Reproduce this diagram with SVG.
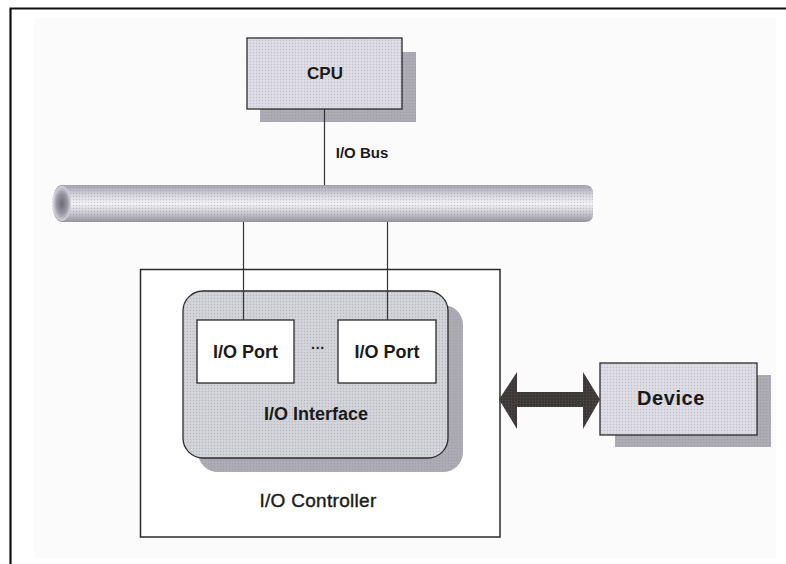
<svg xmlns="http://www.w3.org/2000/svg" width="786" height="564" viewBox="0 0 786 564">
  <defs>
    <style>
      .lbl { font-family: "Liberation Sans", Arial, sans-serif; fill: #1a1a1a; text-anchor: middle; }
      .b { font-weight: bold; }
      .box { stroke: #2a2a2a; stroke-width: 1.3; }
      .shadow { fill: #adacb4; }
      .wire { stroke: #333; stroke-width: 1.2; fill: none; }
    </style>
    <!-- halftone dot grain used on the shaded shapes -->
    <pattern id="grain" width="3" height="3" patternUnits="userSpaceOnUse">
      <circle cx="1.5" cy="1.5" r="0.7" fill="#7d7c86" fill-opacity="0.3"/>
    </pattern>
    <linearGradient id="pipe" x1="0" y1="0" x2="0" y2="1">
      <stop offset="0" stop-color="#a4a3ad"/>
      <stop offset="0.25" stop-color="#d3d2da"/>
      <stop offset="0.5" stop-color="#f4f4f7"/>
      <stop offset="0.75" stop-color="#cccbd3"/>
      <stop offset="1" stop-color="#96959f"/>
    </linearGradient>
    <radialGradient id="pipeEnd" cx="0.5" cy="0.5" r="0.5">
      <stop offset="0" stop-color="#6d6c76"/>
      <stop offset="0.6" stop-color="#9998a2"/>
      <stop offset="1" stop-color="#d6d5dc"/>
    </radialGradient>
  </defs>

  <!-- page -->
  <rect x="0" y="0" width="786" height="564" fill="#ffffff"/>
  <rect x="34" y="18" width="742" height="540" fill="#fbfbfc"/>
  <path d="M10.5 564 V8.5 H786" fill="none" stroke="#111" stroke-width="2.2"/>

  <!-- I/O bus pipe -->
  <g id="io-bus">
    <path d="M62 185 H585 Q593 185 593 193 V214 Q593 222 585 222 H62 A10 18.5 0 0 1 62 185 Z" fill="url(#pipe)"/>
    <path d="M62 185 H585 Q593 185 593 193 V214 Q593 222 585 222 H62 A10 18.5 0 0 1 62 185 Z" fill="url(#grain)"/>
    <ellipse cx="62" cy="203.5" rx="9" ry="17.5" fill="url(#pipeEnd)"/>
    <text class="lbl b" x="362" y="158" font-size="15">I/O Bus</text>
  </g>

  <!-- CPU -->
  <g id="cpu">
    <rect class="shadow" x="260" y="52" width="156" height="70"/>
    <rect x="260" y="52" width="156" height="70" fill="url(#grain)"/>
    <rect class="box" x="247" y="38" width="155" height="71" fill="#dedce4"/>
    <rect x="247" y="38" width="155" height="71" fill="url(#grain)"/>
    <text class="lbl b" x="325" y="79" font-size="17">CPU</text>
  </g>

  <!-- I/O controller -->
  <g id="io-controller">
    <rect x="140.5" y="269.5" width="359.5" height="267.5" fill="#ffffff" stroke="#2a2a2a" stroke-width="1.5"/>
    <text class="lbl" x="318" y="507" font-size="19" letter-spacing="0.3" stroke="#1a1a1a" stroke-width="0.4">I/O Controller</text>
  </g>

  <!-- I/O interface -->
  <g id="io-interface">
    <rect class="shadow" x="198" y="305" width="265" height="167" rx="20"/>
    <rect x="198" y="305" width="265" height="167" rx="20" fill="url(#grain)"/>
    <rect class="box" x="183" y="291" width="265" height="167" rx="20" fill="#d3d3da"/>
    <rect x="183" y="291" width="265" height="167" rx="20" fill="url(#grain)"/>
    <text class="lbl b" x="316" y="420" font-size="18">I/O Interface</text>
    <text class="lbl b" x="318" y="353" font-size="14">···</text>
  </g>

  <!-- I/O ports -->
  <g id="io-port-1">
    <rect class="box" x="197" y="320" width="97" height="63" fill="#ffffff"/>
    <text class="lbl b" x="245.5" y="358" font-size="18">I/O Port</text>
  </g>
  <g id="io-port-2">
    <rect class="box" x="338" y="320" width="98" height="63" fill="#ffffff"/>
    <text class="lbl b" x="387" y="358" font-size="18">I/O Port</text>
  </g>

  <!-- Device -->
  <g id="device">
    <rect class="shadow" x="615" y="375" width="156" height="72"/>
    <rect x="615" y="375" width="156" height="72" fill="url(#grain)"/>
    <rect class="box" x="600" y="363" width="157" height="72" fill="#dedce4"/>
    <rect x="600" y="363" width="157" height="72" fill="url(#grain)"/>
    <text class="lbl b" x="671" y="405" font-size="20" letter-spacing="0.6">Device</text>
  </g>

  <!-- connectors -->
  <g id="connectors">
    <line class="wire" x1="324.5" y1="109" x2="324.5" y2="185"/>
    <line class="wire" x1="243.5" y1="222" x2="243.5" y2="320"/>
    <line class="wire" x1="387.5" y1="222" x2="387.5" y2="320"/>
    <path d="M499 399.5 L517 372 V392 H583 V372 L600 399.5 L583 429 V407 H517 V429 Z" fill="#3d3838"/>
    <path d="M499 399.5 L517 372 V392 H583 V372 L600 399.5 L583 429 V407 H517 V429 Z" fill="url(#grain)"/>
  </g>
</svg>
